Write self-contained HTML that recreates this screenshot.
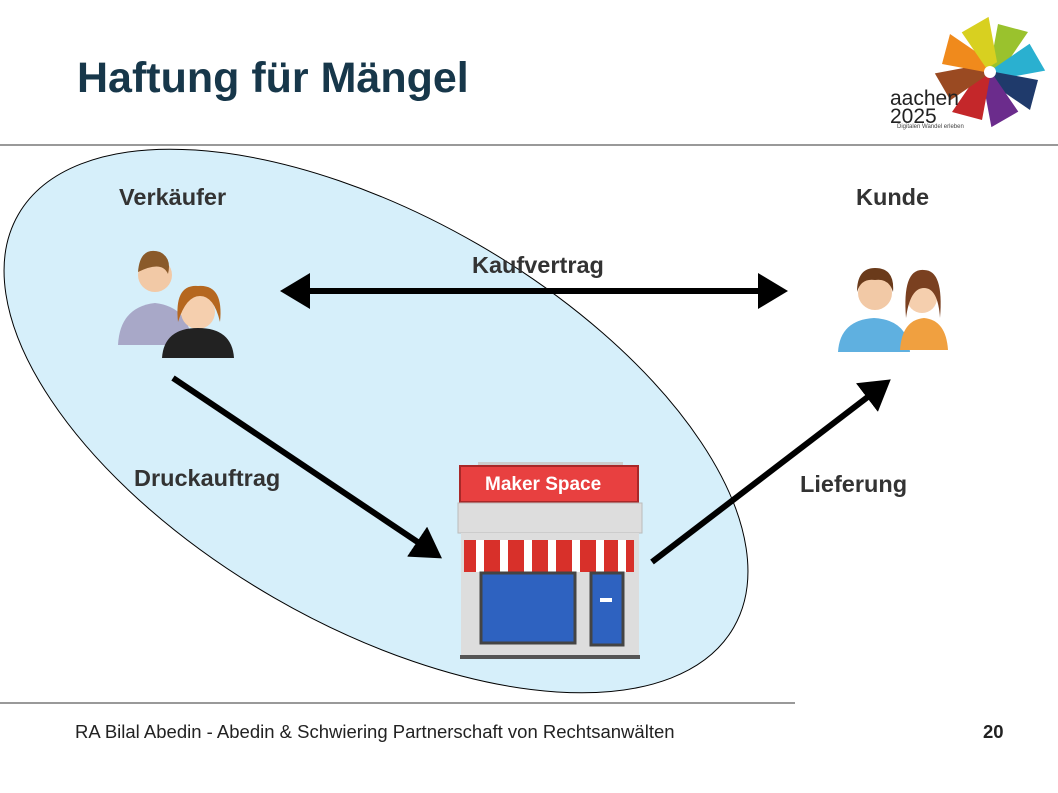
<!DOCTYPE html>
<html><head><style>
body{margin:0;width:1058px;height:793px;background:#fff;position:relative;overflow:hidden;font-family:"Liberation Sans",Arial,sans-serif;}
.t{position:absolute;white-space:nowrap;}
.l{font-size:23.5px;font-weight:bold;color:#333;}
</style></head><body>
<div class="t" style="left:77px;top:54px;font-size:43px;font-weight:bold;color:#17374a;">Haftung für Mängel</div>
<svg width="1058" height="793" style="position:absolute;left:0;top:0">
<defs><marker id="ah" markerWidth="6" markerHeight="6" refX="4" refY="3" orient="auto" markerUnits="strokeWidth"><path d="M0,0 L5,3 L0,6 z" fill="#000"/></marker>
<marker id="as" markerWidth="6" markerHeight="6" refX="1" refY="3" orient="auto" markerUnits="strokeWidth"><path d="M5,0 L0,3 L5,6 z" fill="#000"/></marker></defs>
<line x1="0" y1="145" x2="1058" y2="145" stroke="#333" stroke-width="1"/>
<line x1="0" y1="703" x2="795" y2="703" stroke="#333" stroke-width="1"/>
<ellipse cx="376" cy="421" rx="413" ry="204" transform="rotate(30 376 421)" fill="#d6effa" stroke="#000" stroke-width="1"/>
<line x1="286" y1="291" x2="782" y2="291" stroke="#000" stroke-width="6" marker-end="url(#ah)" marker-start="url(#as)"/>
<line x1="173" y1="378" x2="437" y2="555" stroke="#000" stroke-width="6" marker-end="url(#ah)"/>
<line x1="652" y1="562" x2="886" y2="383" stroke="#000" stroke-width="6" marker-end="url(#ah)"/>
<!-- logo -->
<g transform="translate(990,72)">
<path d="M0,-5 L8,-48 L38,-40 L12,-2z" fill="#9ac22d"/>
<path d="M0,-5 L8,-48 L38,-40 L12,-2z" fill="#2ab0d0" transform="rotate(45)"/>
<path d="M0,-5 L8,-48 L38,-40 L12,-2z" fill="#1f3a6b" transform="rotate(90)"/>
<path d="M0,-5 L8,-48 L38,-40 L12,-2z" fill="#6b2c8c" transform="rotate(135)"/>
<path d="M0,-5 L8,-48 L38,-40 L12,-2z" fill="#c4272a" transform="rotate(180)"/>
<path d="M0,-5 L8,-48 L38,-40 L12,-2z" fill="#9a4a22" transform="rotate(225)"/>
<path d="M0,-5 L8,-48 L38,-40 L12,-2z" fill="#f08a1c" transform="rotate(270)"/>
<path d="M0,-5 L8,-48 L38,-40 L12,-2z" fill="#d8d020" transform="rotate(315)"/>
<circle r="6" fill="#fff"/>
</g>
<!-- sellers -->
<circle cx="155" cy="275" r="17" fill="#f2c9a6"/><path d="M138,272 q2,-26 22,-20 q12,6 8,22 q-6,-14 -30,-2z" fill="#8a5a2a"/>
<path d="M118,345 q2,-38 37,-42 q35,4 37,42z" fill="#a8a8c8"/>
<circle cx="198" cy="312" r="17" fill="#f5cfae"/><path d="M178,322 q-4,-38 20,-36 q26,-2 22,36 q-6,-26 -20,-26 q-14,0 -22,26z" fill="#b5671f"/>
<path d="M162,358 q2,-30 36,-30 q34,0 36,30z" fill="#222"/>
<!-- customers -->
<path d="M838,352 q2,-32 36,-34 q34,2 36,34z" fill="#5fb0e0"/>
<circle cx="875" cy="293" r="17" fill="#f2c9a6"/><path d="M857,292 q0,-24 18,-24 q20,0 18,24 q-4,-14 -18,-12 q-14,-2 -18,12z" fill="#6a3a1a"/>
<path d="M900,350 q2,-30 24,-32 q22,2 24,32z" fill="#f0a040"/>
<circle cx="922" cy="298" r="15" fill="#f5cfae"/><path d="M906,318 q-4,-50 18,-48 q20,0 16,48 q-2,-30 -16,-30 q-14,0 -18,30z" fill="#7a4020"/>
<!-- shop -->
<rect x="478" y="462" width="145" height="6" fill="#ccc"/>
<rect x="460" y="466" width="178" height="36" fill="#e84040" stroke="#a82828" stroke-width="2"/>
<rect x="458" y="503" width="184" height="30" fill="#ddd" stroke="#bbb"/>
<rect x="461" y="533" width="178" height="122" fill="#ddd"/>
<rect x="464" y="540" width="170" height="32" fill="#d8302a"/>
<g fill="#fff"><rect x="476" y="540" width="8" height="32"/><rect x="500" y="540" width="8" height="32"/><rect x="524" y="540" width="8" height="32"/><rect x="548" y="540" width="8" height="32"/><rect x="572" y="540" width="8" height="32"/><rect x="596" y="540" width="8" height="32"/><rect x="618" y="540" width="8" height="32"/></g>
<rect x="481" y="573" width="94" height="70" fill="#2e62c0" stroke="#444" stroke-width="3"/>
<rect x="591" y="573" width="32" height="72" fill="#2e62c0" stroke="#444" stroke-width="3"/>
<rect x="600" y="598" width="12" height="4" fill="#fff"/>
<rect x="460" y="655" width="180" height="4" fill="#555"/>
</svg>
<div class="t" style="left:485px;top:474px;font-size:19px;font-weight:bold;color:#fff;">Maker Space</div>
<div class="t" style="left:890px;top:90px;font-size:21px;color:#222;line-height:18px;">aachen<br>2025</div>
<div class="t" style="left:897px;top:124px;font-size:6px;color:#444;">Digitalen Wandel erleben</div>
<div class="t l" style="left:119px;top:184px;">Verkäufer</div>
<div class="t l" style="left:856px;top:184px;">Kunde</div>
<div class="t l" style="left:472px;top:252px;">Kaufvertrag</div>
<div class="t l" style="left:134px;top:465px;">Druckauftrag</div>
<div class="t l" style="left:800px;top:471px;">Lieferung</div>
<div class="t" style="left:75px;top:721px;font-size:18.5px;color:#222;">RA Bilal Abedin - Abedin &amp; Schwiering Partnerschaft von Rechtsanwälten</div>
<div class="t" style="left:983px;top:721px;font-size:18.5px;font-weight:bold;color:#222;">20</div>
</body></html>
